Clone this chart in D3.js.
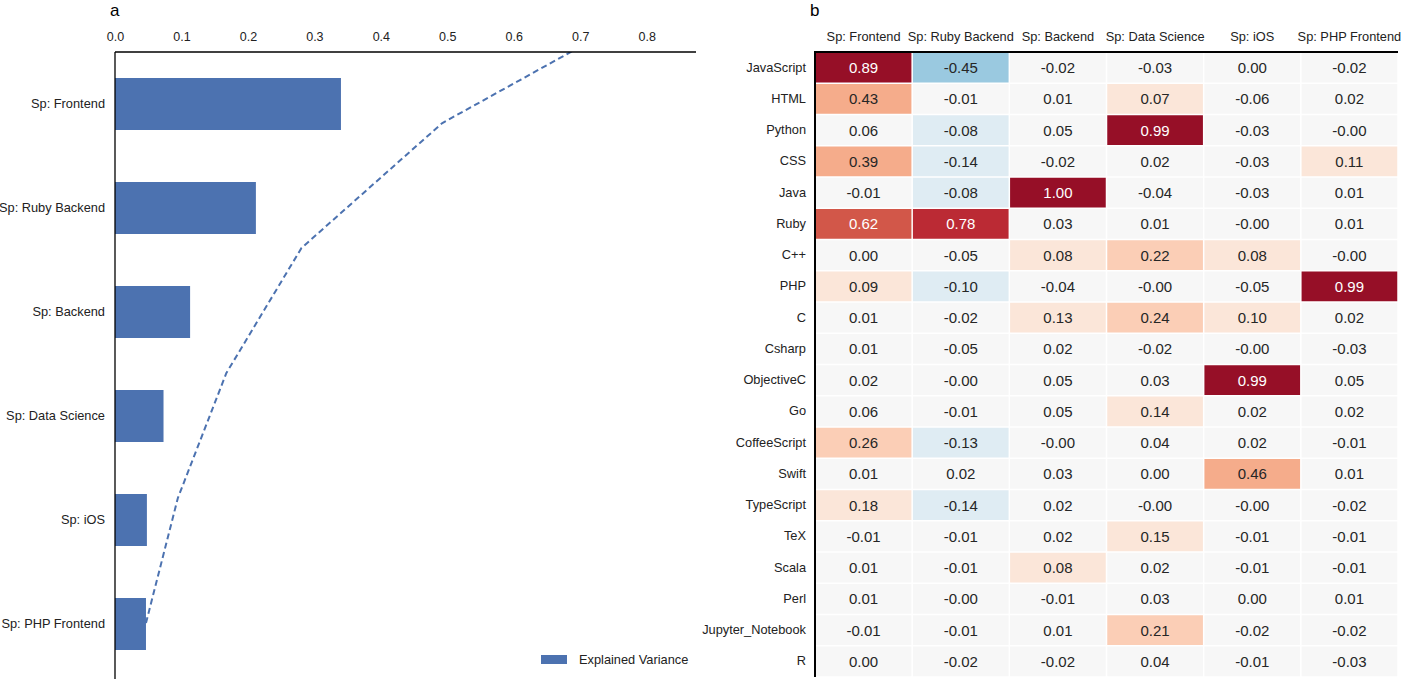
<!DOCTYPE html>
<html><head><meta charset="utf-8">
<script src="https://cdn.jsdelivr.net/npm/d3@7"></script>
<style>body{margin:0;background:#fff} text{font-family:"Liberation Sans",Arial,Helvetica,sans-serif}</style>
</head><body><svg id="c" width="1401" height="679"></svg>
<script>
// ---------- data ----------
const components = ["Sp: Frontend", "Sp: Ruby Backend", "Sp: Backend", "Sp: Data Science", "Sp: iOS", "Sp: PHP Frontend"];
const explainedVariance = [0.340, 0.212, 0.113, 0.073, 0.048, 0.0466];
const xTickValues = [0.0, 0.1, 0.2, 0.3, 0.4, 0.5, 0.6, 0.7, 0.8];
const languages = ["JavaScript", "HTML", "Python", "CSS", "Java", "Ruby", "C++", "PHP", "C", "Csharp",
  "ObjectiveC", "Go", "CoffeeScript", "Swift", "TypeScript", "TeX", "Scala", "Perl", "Jupyter_Notebook", "R"];
const loadings = [
  [0.89, -0.45, -0.02, -0.03, 0.00, -0.02],
  [0.43, -0.01, 0.01, 0.07, -0.06, 0.02],
  [0.06, -0.08, 0.05, 0.99, -0.03, -0.00],
  [0.39, -0.14, -0.02, 0.02, -0.03, 0.11],
  [-0.01, -0.08, 1.00, -0.04, -0.03, 0.01],
  [0.62, 0.78, 0.03, 0.01, -0.00, 0.01],
  [0.00, -0.05, 0.08, 0.22, 0.08, -0.00],
  [0.09, -0.10, -0.04, -0.00, -0.05, 0.99],
  [0.01, -0.02, 0.13, 0.24, 0.10, 0.02],
  [0.01, -0.05, 0.02, -0.02, -0.00, -0.03],
  [0.02, -0.00, 0.05, 0.03, 0.99, 0.05],
  [0.06, -0.01, 0.05, 0.14, 0.02, 0.02],
  [0.26, -0.13, -0.00, 0.04, 0.02, -0.01],
  [0.01, 0.02, 0.03, 0.00, 0.46, 0.01],
  [0.18, -0.14, 0.02, -0.00, -0.00, -0.02],
  [-0.01, -0.01, 0.02, 0.15, -0.01, -0.01],
  [0.01, -0.01, 0.08, 0.02, -0.01, -0.01],
  [0.01, -0.00, -0.01, 0.03, 0.00, 0.01],
  [-0.01, -0.01, 0.01, 0.21, -0.02, -0.02],
  [0.00, -0.02, -0.02, 0.04, -0.01, -0.03]
];
const rdbuAnchors = ["#67001f","#b2182b","#d6604d","#f4a582","#fddbc7","#f7f7f7","#d1e5f0","#92c5de","#4393c3","#2166ac","#053061"];

// ---------- setup ----------
const svg = d3.select("#c");
const barColor = "#4c72b0";
const font = "\"Liberation Sans\",Arial,Helvetica,sans-serif";

// ---------- panel a ----------
const A = {left: 115, right: 696, top: 52, bottom: 676};
const x = d3.scaleLinear().domain([0, d3.sum(explainedVariance) * 1.05]).range([A.left, A.right]);
const y = d3.scaleBand().domain(components).range([A.top, A.bottom]).paddingInner(0.5).paddingOuter(0.25);

svg.append("defs").append("clipPath").attr("id", "clipA")
  .append("rect").attr("x", A.left).attr("y", A.top).attr("width", A.right - A.left).attr("height", A.bottom - A.top);

const gA = svg.append("g");
gA.selectAll("rect.bar").data(components).join("rect").attr("class", "bar")
  .attr("x", x(0)).attr("y", d => y(d))
  .attr("width", (d, i) => x(explainedVariance[i]) - x(0))
  .attr("height", y.bandwidth()).attr("fill", barColor);

// cumulative explained variance, accumulated from the bottom component upward
const cum = Array.from(d3.cumsum(explainedVariance.slice().reverse()));
const yLine = d3.scaleLinear().domain([0, cum.length - 1]).range([623, -2]);
gA.append("path").datum(cum)
  .attr("clip-path", "url(#clipA)")
  .attr("d", d3.line().x(d => x(d)).y((d, i) => yLine(i)))
  .attr("fill", "none").attr("stroke", barColor).attr("stroke-width", 2)
  .attr("stroke-dasharray", "6,3.6");

const axA = gA.append("g").attr("transform", `translate(0,${A.top})`)
  .call(d3.axisTop(x).tickValues(xTickValues).tickSize(0).tickPadding(11).tickFormat(d3.format(".1f")));
axA.select(".domain").remove();
axA.selectAll("text").attr("font-size", 12.5).attr("font-family", font).attr("fill", "#222");

const ayA = gA.append("g").attr("transform", `translate(${A.left},0)`)
  .call(d3.axisLeft(y).tickSize(0).tickPadding(10));
ayA.select(".domain").remove();
ayA.selectAll("text").attr("font-size", 12.8).attr("font-family", font).attr("fill", "#222");

gA.append("line").attr("x1", A.left).attr("x2", A.right).attr("y1", A.top).attr("y2", A.top)
  .attr("stroke", "#000").attr("stroke-width", 1.3);
gA.append("line").attr("x1", A.left).attr("x2", A.left).attr("y1", A.top).attr("y2", 679)
  .attr("stroke", "#000").attr("stroke-width", 1.3);

// legend
const leg = gA.append("g").attr("transform", "translate(541,655)");
leg.append("rect").attr("width", 26).attr("height", 9).attr("fill", barColor);
leg.append("text").attr("x", 38).attr("y", 4.5).attr("dy", "0.35em")
  .attr("font-size", 12.8).attr("font-family", font).attr("fill", "#222").text("Explained Variance");

svg.append("text").attr("x", 110).attr("y", 16).attr("font-size", 17).attr("font-family", font).text("a");

// ---------- panel b ----------
const H = {left: 815, right: 1398, top: 52, bottom: 677};
const hx = d3.scaleBand().domain(components).range([H.left, H.right]);
const hy = d3.scaleBand().domain(languages).range([H.top, H.bottom]);

const interp = d3.scaleLinear().domain(d3.range(11).map(i => i / 10))
  .range(rdbuAnchors.slice().reverse()).interpolate(d3.interpolateRgb);
const colors15 = d3.range(1, 16).map(k => interp(k / 16));
const color = d3.scaleQuantize().domain([-1, 1]).range(colors15);

function lum(c) {
  const r = d3.rgb(c);
  const f = v => { v /= 255; return v <= 0.03928 ? v / 12.92 : Math.pow((v + 0.055) / 1.055, 2.4); };
  return 0.2126 * f(r.r) + 0.7152 * f(r.g) + 0.0722 * f(r.b);
}
const fmt = v => ((v < 0 || Object.is(v, -0)) ? "-" : "") + Math.abs(v).toFixed(2);

const cells = [];
languages.forEach((lang, i) => components.forEach((comp, j) => cells.push({lang, comp, v: loadings[i][j]})));

const gB = svg.append("g");
const gap = 1.5;
gB.selectAll("rect.cell").data(cells).join("rect").attr("class", "cell")
  .attr("x", d => hx(d.comp) + gap / 2).attr("y", d => hy(d.lang) + gap / 2)
  .attr("width", hx.bandwidth() - gap).attr("height", hy.bandwidth() - gap)
  .attr("fill", d => color(d.v));
gB.selectAll("text.val").data(cells).join("text").attr("class", "val")
  .attr("x", d => hx(d.comp) + hx.bandwidth() / 2).attr("y", d => hy(d.lang) + hy.bandwidth() / 2)
  .attr("dy", "0.36em").attr("text-anchor", "middle").attr("font-size", 15).attr("font-family", font)
  .attr("fill", d => lum(color(d.v)) <= 0.408 ? "#fff" : "#262626")
  .text(d => fmt(d.v));

const axB = gB.append("g").attr("transform", `translate(0,${H.top})`)
  .call(d3.axisTop(hx).tickSize(0).tickPadding(11));
axB.select(".domain").remove();
axB.selectAll("text").attr("font-size", 12.8).attr("font-family", font).attr("fill", "#222");

const ayB = gB.append("g").attr("transform", `translate(${H.left},0)`)
  .call(d3.axisLeft(hy).tickSize(0).tickPadding(9));
ayB.select(".domain").remove();
ayB.selectAll("text").attr("font-size", 12.8).attr("font-family", font).attr("fill", "#222");

gB.append("line").attr("x1", H.left).attr("x2", H.right).attr("y1", H.top).attr("y2", H.top)
  .attr("stroke", "#000").attr("stroke-width", 2);
gB.append("line").attr("x1", H.left).attr("x2", H.left).attr("y1", H.top - 1).attr("y2", H.bottom)
  .attr("stroke", "#000").attr("stroke-width", 2);

svg.append("text").attr("x", 810).attr("y", 16).attr("font-size", 17).attr("font-family", font).text("b");
</script></body></html>
